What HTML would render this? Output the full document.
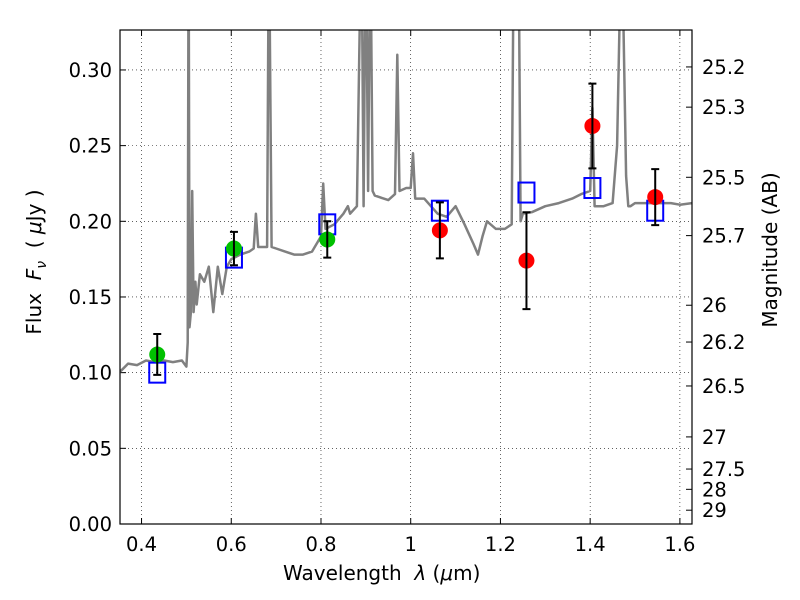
<!DOCTYPE html>
<html><head><meta charset="utf-8"><style>
body{margin:0;background:#fff;}
svg{display:block;font-family:"DejaVu Sans","Liberation Sans",sans-serif;}
</style></head><body>
<svg id="chart" width="800" height="600" xmlns="http://www.w3.org/2000/svg"></svg>
<script>
const specX=[0.35,0.37,0.39,0.41,0.43,0.45,0.47,0.49,0.50,0.503,0.505,0.507,0.51,0.513,0.516,0.52,0.523,0.53,0.54,0.55,0.56,0.57,0.58,0.59,0.60,0.62,0.64,0.65,0.655,0.66,0.68,0.684,0.69,0.70,0.72,0.74,0.76,0.78,0.80,0.805,0.81,0.83,0.85,0.86,0.865,0.88,0.89,0.895,0.90,0.905,0.91,0.915,0.92,0.93,0.95,0.965,0.97,0.975,0.99,1.0,1.005,1.01,1.03,1.06,1.08,1.10,1.12,1.14,1.15,1.16,1.17,1.19,1.21,1.225,1.23,1.24,1.245,1.25,1.27,1.30,1.33,1.36,1.38,1.40,1.405,1.41,1.43,1.45,1.46,1.47,1.48,1.485,1.49,1.5,1.55,1.58,1.60,1.627];
const specY=[0.100,0.106,0.105,0.108,0.107,0.108,0.107,0.108,0.104,0.12,0.40,0.13,0.14,0.22,0.14,0.16,0.145,0.165,0.16,0.17,0.14,0.17,0.152,0.17,0.175,0.178,0.18,0.182,0.205,0.183,0.183,0.40,0.183,0.182,0.18,0.178,0.178,0.18,0.19,0.225,0.195,0.198,0.205,0.21,0.205,0.21,0.40,0.21,0.40,0.22,0.40,0.22,0.217,0.216,0.214,0.218,0.31,0.22,0.222,0.222,0.245,0.215,0.215,0.205,0.203,0.21,0.198,0.185,0.178,0.19,0.2,0.195,0.195,0.198,0.40,0.40,0.20,0.205,0.206,0.21,0.212,0.215,0.218,0.22,0.275,0.21,0.21,0.212,0.25,0.40,0.23,0.21,0.21,0.212,0.212,0.212,0.211,0.212];
const modelX=[0.435,0.606,0.814,1.065,1.258,1.405,1.545];
const modelY=[0.100,0.176,0.198,0.207,0.219,0.222,0.207];
const obsX=[0.435,0.606,0.814,1.065,1.258,1.405,1.545];
const obsY=[0.112,0.182,0.188,0.194,0.174,0.263,0.216];
const obsErr=[0.0135,0.011,0.012,0.0185,0.032,0.028,0.0185];
const obsColor=["#00c000","#00c000","#00c000","red","red","red","red"];
const xTicks=[0.4,0.6,0.8,1.0,1.2,1.4,1.6];
const xTickLabels=["0.4","0.6","0.8","1","1.2","1.4","1.6"];
const yTicks=[0,0.05,0.10,0.15,0.20,0.25,0.30];
const yTickLabels=["0.00","0.05","0.10","0.15","0.20","0.25","0.30"];
const magTicks=[25.2,25.3,25.5,25.7,26,26.2,26.5,27,27.5,28,29];

const L=120,R=692,T=30,B=524,xmin=0.352,xmax=1.627,ymin=0,ymax=0.3264;
const sx=v=>L+(v-xmin)/(xmax-xmin)*(R-L);
const sy=v=>B-(v-ymin)/(ymax-ymin)*(B-T);
const svg=document.getElementById('chart');
const NS='http://www.w3.org/2000/svg';
function mk(tag,attrs,parent){const e=document.createElementNS(NS,tag);for(const k in attrs)e.setAttribute(k,attrs[k]);(parent||svg).appendChild(e);return e;}

const clip=mk('clipPath',{id:'pc'});mk('rect',{x:L,y:T,width:R-L,height:B-T},clip);
const grid=mk('g',{});


xTicks.forEach((t,i)=>{
  const x=sx(t);
  const gl=mk('line',{x1:x,x2:x,y1:T,y2:B,stroke:'#000','stroke-width':0.6,'stroke-dasharray':'1,3'},grid);
  
  
  mk('line',{x1:x,x2:x,y1:B,y2:B-6,stroke:'#000'});
  mk('line',{x1:x,x2:x,y1:T,y2:T+6,stroke:'#000'});
  const tx=mk('text',{x:x,y:B+27,'text-anchor':'middle','font-size':19.5});
  tx.textContent=xTickLabels[i];
  
  
});
yTicks.forEach((t,i)=>{
  const y=sy(t);
  const gl=mk('line',{x1:L,x2:R,y1:y,y2:y,stroke:'#000','stroke-width':0.6,'stroke-dasharray':'1,3'},grid);
  
  
  mk('line',{x1:L,x2:L+6,y1:y,y2:y,stroke:'#000'});
  const tx=mk('text',{x:L-8,y:y+7,'text-anchor':'end','font-size':19.5});
  tx.textContent=yTickLabels[i];
  
  
});
magTicks.forEach(m=>{
  const f=Math.pow(10,(23.9-m)/2.5);
  const y=sy(f);
  mk('line',{x1:R,x2:R-6,y1:y,y2:y,stroke:'#000'});
  const tx=mk('text',{x:R+10,y:y+7,'font-size':19.5});
  tx.textContent=String(m);
  
  
});
const pts=specX.map((x,i)=>sx(x).toFixed(1)+','+sy(specY[i]).toFixed(1)).join(' ');
const sp=mk('polyline',{points:pts,fill:'none',stroke:'#808080','stroke-width':2.5,'clip-path':'url(#pc)','stroke-linejoin':'round'});


modelX.forEach((x,i)=>{
  const r=mk('rect',{x:sx(x)-8,y:sy(modelY[i])-10,width:16,height:20,fill:'none',stroke:'#0000ff','stroke-width':2});
  
  
});
obsX.forEach((x,i)=>{
  const cx=sx(x),y1=sy(obsY[i]-obsErr[i]),y2=sy(obsY[i]+obsErr[i]);
  const c=mk('circle',{cx:cx,cy:sy(obsY[i]),r:8,fill:obsColor[i]});
  
  
  const eb=mk('path',{d:`M${cx},${y1}V${y2}M${cx-4},${y1}H${cx+4}M${cx-4},${y2}H${cx+4}`,stroke:'#000','stroke-width':2,fill:'none'});
  
  
});
const fr=mk('rect',{x:L,y:T,width:R-L,height:B-T,fill:'none',stroke:'#000','stroke-width':1.2});


</script>
<div style="position:absolute;left:0;top:0;width:800px;height:600px;pointer-events:none;font-family:'DejaVu Sans','Liberation Sans',sans-serif;">
<div style="position:absolute;left:283px;top:561px;font-size:20px;white-space:nowrap;">Wavelength&nbsp; <i>λ</i> (<i>μ</i>m)</div>
<div style="position:absolute;left:36px;top:262px;font-size:20px;white-space:nowrap;transform:translate(-50%,-50%) rotate(-90deg);">Flux&nbsp; <i>F<sub style="font-size:14px">ν</sub></i>&nbsp; ( <i>μ</i>Jy )</div>
<div style="position:absolute;left:770px;top:250px;font-size:20px;white-space:nowrap;transform:translate(-50%,-50%) rotate(-90deg);">Magnitude (AB)</div>
</div>
</body></html>
